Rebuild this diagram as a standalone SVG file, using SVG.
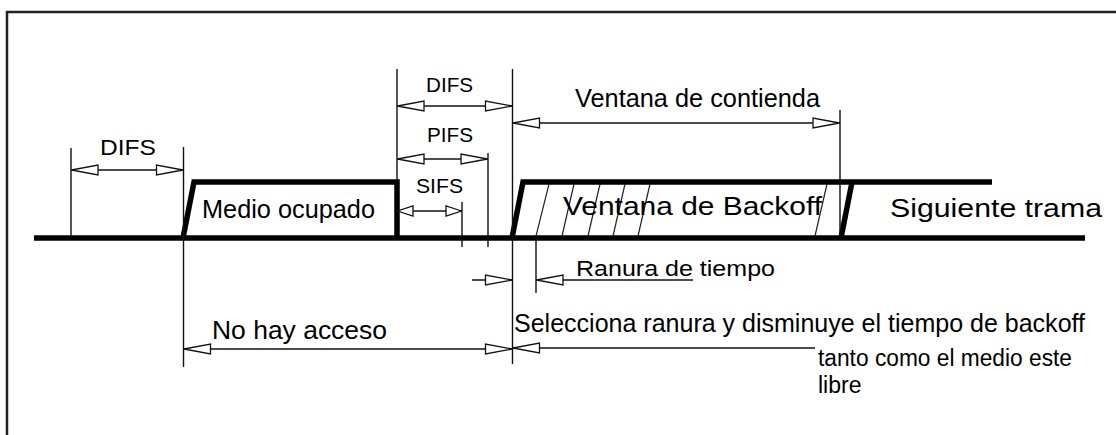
<svg xmlns="http://www.w3.org/2000/svg" width="1116" height="435" viewBox="0 0 1116 435">
<style>
.thin{stroke:#111;stroke-width:1.4;fill:none}
.thick{stroke:#000;stroke-width:5.5;fill:none;stroke-linejoin:miter}
.hatch{stroke:#222;stroke-width:1.2;fill:none}
.frame{stroke:#222;stroke-width:2.5;fill:none}
.dim{stroke:#111;stroke-width:1.4;fill:none;marker-start:url(#ah);marker-end:url(#ah)}
.dimS{stroke:#111;stroke-width:1.4;fill:none;marker-start:url(#ahs);marker-end:url(#ahs)}
.t{font-family:"Liberation Sans",Arial,sans-serif;fill:#000}
</style>
<defs>
<marker id="ah" viewBox="0 0 30 12" refX="30" refY="6" markerWidth="30" markerHeight="12" markerUnits="userSpaceOnUse" orient="auto-start-reverse">
<path d="M29.5,6 L3,1 L3,11 Z" fill="#fff" stroke="#111" stroke-width="1.3"/>
</marker>
<marker id="ahs" viewBox="0 0 18 12" refX="18" refY="6" markerWidth="18" markerHeight="12" markerUnits="userSpaceOnUse" orient="auto-start-reverse">
<path d="M17.5,6 L2,1 L2,11 Z" fill="#fff" stroke="#111" stroke-width="1.3"/>
</marker>
<marker id="ahe" viewBox="0 0 30 12" refX="30" refY="6" markerWidth="30" markerHeight="12" markerUnits="userSpaceOnUse" orient="auto">
<path d="M29.5,6 L3,1 L3,11 Z" fill="#fff" stroke="#111" stroke-width="1.3"/>
</marker>
</defs>
<rect x="0" y="0" width="1116" height="435" fill="#fff"/>
<g id="frame">
<path class="frame" d="M7,435 V12 H1116"/>
</g>
<g id="signal">
<line class="thick" x1="34" y1="238" x2="1085" y2="238"/>
<path class="thick" d="M183,238 L194,182 H397 V238"/>
<path class="thick" d="M512,238 L523,182 H992"/>
<line class="thick" x1="841" y1="238" x2="852" y2="182"/>
<g id="hatch">
<line class="hatch" x1="536" y1="236" x2="549" y2="184"/>
<line class="hatch" x1="562" y1="236" x2="574" y2="184"/>
<line class="hatch" x1="588" y1="236" x2="600" y2="184"/>
<line class="hatch" x1="613" y1="236" x2="625" y2="184"/>
<line class="hatch" x1="638" y1="236" x2="650" y2="184"/>
<line class="hatch" x1="815" y1="236" x2="827" y2="184"/>
</g>
</g>
<g id="connectors">
<line class="thin" x1="71" y1="148" x2="71" y2="238"/>
<line class="thin" x1="183.5" y1="147" x2="183.5" y2="367"/>
<line class="thin" x1="397" y1="69" x2="397" y2="182"/>
<line class="thin" x1="512.5" y1="69" x2="512.5" y2="364"/>
<line class="thin" x1="840" y1="110" x2="840" y2="236"/>
<line class="thin" x1="462" y1="202" x2="462" y2="247"/>
<line class="thin" x1="488" y1="153" x2="488" y2="247"/>
<line class="thin" x1="536" y1="238" x2="536" y2="293"/>
<line class="dim" x1="71" y1="170" x2="183.5" y2="170"/>
<line class="dim" x1="397" y1="106" x2="512.5" y2="106"/>
<line class="dim" x1="397" y1="159" x2="488" y2="159"/>
<line class="dimS" x1="397" y1="211" x2="462" y2="211"/>
<line class="dim" x1="512.5" y1="123" x2="840" y2="123"/>
<line class="thin" x1="472" y1="280" x2="512.5" y2="280" marker-end="url(#ahe)"/>
<line class="thin" x1="693" y1="280" x2="536" y2="280" marker-end="url(#ahe)"/>
<line class="dim" x1="183.5" y1="349" x2="512.5" y2="349"/>
<line class="thin" x1="815" y1="348" x2="512.5" y2="348" marker-end="url(#ahe)"/>
</g>
<g id="labels">
<text id="lbl-difs1" class="t" x="100" y="155" font-size="22" textLength="56" lengthAdjust="spacingAndGlyphs">DIFS</text>
<text id="lbl-medio" class="t" x="202" y="218" font-size="25" textLength="173" lengthAdjust="spacingAndGlyphs">Medio ocupado</text>
<text id="lbl-difs2" class="t" x="426" y="92" font-size="21" textLength="47" lengthAdjust="spacingAndGlyphs">DIFS</text>
<text id="lbl-pifs" class="t" x="427" y="142" font-size="21" textLength="46" lengthAdjust="spacingAndGlyphs">PIFS</text>
<text id="lbl-sifs" class="t" x="416" y="193" font-size="21" textLength="47" lengthAdjust="spacingAndGlyphs">SIFS</text>
<text id="lbl-contienda" class="t" x="575" y="107" font-size="25" textLength="245" lengthAdjust="spacingAndGlyphs">Ventana de contienda</text>
<text id="lbl-backoff" class="t" x="563" y="215" font-size="25" textLength="259" lengthAdjust="spacingAndGlyphs">Ventana de Backoff</text>
<text id="lbl-siguiente" class="t" x="890" y="217" font-size="26" textLength="212" lengthAdjust="spacingAndGlyphs">Siguiente trama</text>
<text id="lbl-ranura" class="t" x="576" y="276" font-size="22" textLength="199" lengthAdjust="spacingAndGlyphs">Ranura de tiempo</text>
<text id="lbl-nohay" class="t" x="212" y="339" font-size="25" textLength="175" lengthAdjust="spacingAndGlyphs">No hay acceso</text>
<text id="lbl-selecciona" class="t" x="514" y="332" font-size="25" textLength="571" lengthAdjust="spacingAndGlyphs">Selecciona ranura y disminuye el tiempo de backoff</text>
<text id="lbl-tanto" class="t" x="818" y="366" font-size="23" textLength="254" lengthAdjust="spacingAndGlyphs">tanto como el medio este</text>
<text id="lbl-libre" class="t" x="818" y="393" font-size="23">libre</text>
</g>
</svg>
